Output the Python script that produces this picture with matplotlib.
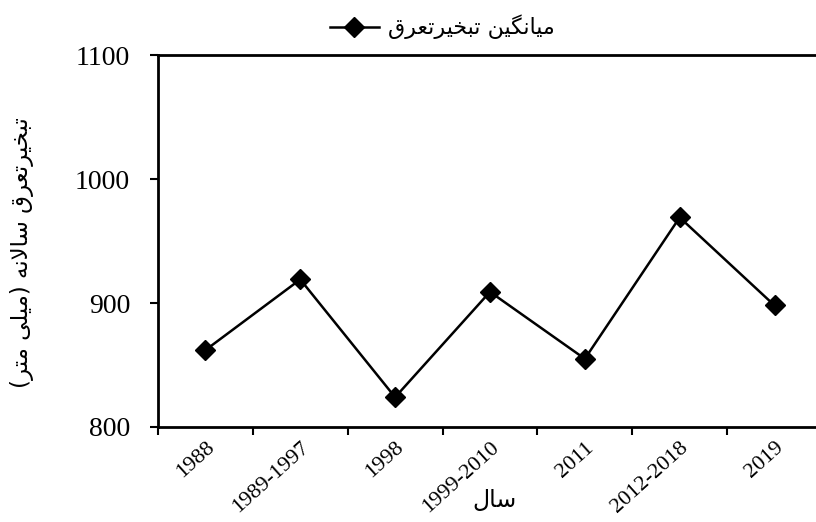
import matplotlib
matplotlib.use('Agg')
import matplotlib.pyplot as plt
import numpy as np

""" Data """

periods = ['1988', '1989-1997', '1998', '1999-2010', '2011', '2012-2018', '2019']
et_mean = [862, 919, 824, 909, 855, 969, 898]
y_ticks = [800, 900, 1000, 1100]

legend_txt = 'میانگین تبخیرتعرق'
ylabel_txt = 'تبخیرتعرق سالانه (میلی متر)'
xlabel_txt = 'سال'

""" Persian shaping (matplotlib lays glyphs left to right, no joining) """

# isolated, final, initial, medial
FORMS = {
    'ا': ('\uFE8D', '\uFE8E', None, None),
    'ب': ('\uFE8F', '\uFE90', '\uFE91', '\uFE92'),
    'ت': ('\uFE95', '\uFE96', '\uFE97', '\uFE98'),
    'خ': ('\uFEA5', '\uFEA6', '\uFEA7', '\uFEA8'),
    'ر': ('\uFEAD', '\uFEAE', None, None),
    'س': ('\uFEB1', '\uFEB2', '\uFEB3', '\uFEB4'),
    'ع': ('\uFEC9', '\uFECA', '\uFECB', '\uFECC'),
    'ق': ('\uFED5', '\uFED6', '\uFED7', '\uFED8'),
    'ل': ('\uFEDD', '\uFEDE', '\uFEDF', '\uFEE0'),
    'م': ('\uFEE1', '\uFEE2', '\uFEE3', '\uFEE4'),
    'ن': ('\uFEE5', '\uFEE6', '\uFEE7', '\uFEE8'),
    'ه': ('\uFEE9', '\uFEEA', '\uFEEB', '\uFEEC'),
    'ی': ('\uFBFC', '\uFBFD', '\uFBFE', '\uFBFF'),
    'گ': ('\uFB92', '\uFB93', '\uFB94', '\uFB95'),
}


def fa(s):
    out = []
    i = 0
    while i < len(s):
        c = s[i]
        if c not in FORMS:
            out.append(c)
            i += 1
            continue
        prev = s[i - 1] if i > 0 else ''
        jp = prev in FORMS and FORMS[prev][2] is not None
        if c == 'ل' and i + 1 < len(s) and s[i + 1] == 'ا':
            out.append('\uFEFC' if jp else '\uFEFB')
            i += 2
            continue
        nxt = s[i + 1] if i + 1 < len(s) else ''
        jn = FORMS[c][2] is not None and nxt in FORMS
        f = FORMS[c]
        if jp and jn:
            g = f[3]
        elif jp:
            g = f[1]
        elif jn:
            g = f[2]
        else:
            g = f[0]
        out.append(g)
        i += 1
    vis = ''.join(reversed(out))
    return vis.translate(str.maketrans('()', ')('))


plt.rcParams['font.family'] = ['Liberation Serif', 'DejaVu Sans']

""" Plot """

fig = plt.figure(figsize=(8.16, 5.22), dpi=100)
ax = fig.add_axes([0.1936, 0.182, 0.8137, 0.7126])

x = np.arange(len(periods))
ax.plot(x, et_mean, color='black', linewidth=1.8, marker='D', markersize=10,
        markerfacecolor='black', markeredgecolor='black', label=fa(legend_txt))

ax.set_xlim(-0.5, len(periods) - 0.5)
ax.set_ylim(800, 1100)
ax.set_yticks(y_ticks)
ax.set_yticklabels([str(v) for v in y_ticks], fontsize=20)

ax.set_xticks(x)
ax.set_xticklabels(periods, fontsize=16, rotation=42, ha='right',
                   rotation_mode='anchor')
ax.set_xticks(np.arange(-0.5, len(periods)), minor=True)
ax.tick_params(axis='x', which='major', length=0, pad=8)
ax.tick_params(axis='x', which='minor', length=6, width=1.5, direction='out')
ax.tick_params(axis='y', length=6, width=1.5, direction='out', pad=14)

for sp in ax.spines.values():
    sp.set_linewidth(2)

ax.set_xlabel(fa(xlabel_txt), fontsize=17, family=['DejaVu Sans'])
ax.xaxis.set_label_coords(0.507, -0.165)
ax.set_ylabel(fa(ylabel_txt), fontsize=16.5, family=['DejaVu Sans'])
ax.yaxis.set_label_coords(-0.187, 0.47)

leg = fig.legend(loc='center', bbox_to_anchor=(0.542, 0.948), frameon=False,
                 handlelength=2.2, handletextpad=0.4,
                 prop={'family': ['DejaVu Sans'], 'size': 16})

fig.savefig('out.png', dpi=100)
